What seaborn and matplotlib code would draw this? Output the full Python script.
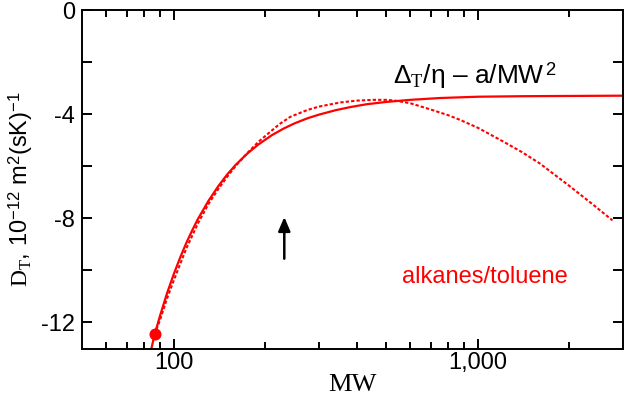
import matplotlib
matplotlib.use("Agg")
import matplotlib.pyplot as plt
import seaborn as sns
import pandas as pd
from matplotlib.ticker import FixedLocator, FixedFormatter, NullFormatter

# ---- data ----
mw_solid = [84.2, 86.4, 90, 95, 100, 105, 110, 115, 120, 130, 140, 150, 160, 175,
            190, 210, 230, 250, 275, 300, 340, 380, 430, 500, 600, 750, 1000,
            1400, 2000, 3000]
dt_solid = [-13.05, -12.48, -11.76, -10.88, -10.14, -9.50, -8.94, -8.46, -8.03,
            -7.33, -6.77, -6.31, -5.94, -5.50, -5.16, -4.81, -4.55, -4.35, -4.16,
            -4.02, -3.85, -3.73, -3.62, -3.53, -3.45, -3.38, -3.33, -3.31, -3.30,
            -3.29]

mw_dotted = [86.4, 90, 95, 100, 110, 120, 130, 140, 150, 160, 175, 190, 210, 224,
             242, 275, 300, 353, 400, 454, 500, 535, 600, 700, 800, 875, 1000,
             1200, 1400, 1600, 2000, 2400, 2777]
dt_dotted = [-12.46, -11.92, -11.08, -10.38, -9.15, -8.20, -7.45, -6.88, -6.40,
             -5.98, -5.48, -5.06, -4.63, -4.36, -4.10, -3.84, -3.71, -3.55, -3.48,
             -3.45, -3.45, -3.48, -3.58, -3.82, -4.04, -4.22, -4.52, -5.02, -5.46,
             -5.89, -6.75, -7.48, -8.08]

mw_point = [86.4]
dt_point = [-12.46]

x_major = [100, 1000]
x_major_labels = ["100", "1,000"]
x_minor = [60, 70, 80, 90, 200, 300, 400, 500, 600, 700, 800, 900, 2000]
y_major = [0, -4, -8, -12]
y_major_labels = ["0", "-4", "-8", "-12"]
y_minor = [-2, -6, -10]

sns.set_theme(style="white")
plt.rcParams['font.family'] = ['Liberation Sans', 'DejaVu Sans']
plt.rcParams['axes.unicode_minus'] = False
plt.rcParams['mathtext.fontset'] = 'custom'
plt.rcParams['mathtext.rm'] = 'Liberation Serif'
plt.rcParams['mathtext.sf'] = 'Liberation Sans'
plt.rcParams['mathtext.it'] = 'Liberation Serif:italic'

RED = "#ff0000"

fig = plt.figure(figsize=(6.25, 3.96), dpi=100)
ax = fig.add_axes([0.1317, 0.1199, 0.8646, 0.8548])

df_s = pd.DataFrame({"MW": mw_solid, "DT": dt_solid})
df_d = pd.DataFrame({"MW": mw_dotted, "DT": dt_dotted})
df_p = pd.DataFrame({"MW": mw_point, "DT": dt_point})

sns.lineplot(data=df_s, x="MW", y="DT", ax=ax, color=RED, lw=1.6, sort=False,
             estimator=None)
sns.lineplot(data=df_d, x="MW", y="DT", ax=ax, color=RED, lw=1.5, sort=False,
             estimator=None, linestyle=(0, (1.6, 1.0)))
sns.scatterplot(data=df_p, x="MW", y="DT", ax=ax, color=RED, s=75,
                edgecolor=RED, linewidth=0, zorder=5, clip_on=False)

ax.set_xscale("log")
ax.set_xlim(50, 3000)
ax.set_ylim(-13, 0)

ax.xaxis.set_major_locator(FixedLocator(x_major))
ax.xaxis.set_major_formatter(FixedFormatter(x_major_labels))
ax.xaxis.set_minor_locator(FixedLocator(x_minor))
ax.xaxis.set_minor_formatter(NullFormatter())
ax.yaxis.set_major_locator(FixedLocator(y_major))
ax.yaxis.set_major_formatter(FixedFormatter(y_major_labels))
ax.yaxis.set_minor_locator(FixedLocator(y_minor))

for s in ax.spines.values():
    s.set_visible(True)
    s.set_color("black")
    s.set_linewidth(1.4)

ax.tick_params(which="both", direction="in", top=True, right=True,
               bottom=True, left=True, color="black", width=1.4)
ax.tick_params(which="major", length=7.5, labelsize=17, labelcolor="black")
ax.tick_params(axis="y", which="major", pad=5)
ax.tick_params(axis="x", which="major", pad=2.5)
ax.tick_params(axis="y", which="minor", length=7.5)
ax.tick_params(axis="x", which="minor", length=5.3)

ax.set_xlabel("MW", fontfamily="Liberation Serif", fontsize=19, color="black",
              labelpad=0)
ax.set_ylabel(r"$\mathrm{D}_\mathrm{T}$, 10$^{\mathsf{-12}}$ m$^{\mathsf{2}}$(sK)$^{\mathsf{-1}}$",
              fontsize=17, color="black", va="center")
ax.yaxis.set_label_coords(-0.115, 0.47)

ax.text(527, -2.83, r"Δ$_\mathrm{T}$/η – a/MW$^{\,\mathsf{2}}$", fontsize=19,
        color="black", ha="left", va="baseline")
ax.text(564, -10.5, "alkanes/toluene", fontsize=17, color=RED,
        ha="left", va="baseline")

ax.annotate("", xy=(231, -7.95), xytext=(231, -9.55),
            arrowprops=dict(arrowstyle="-|>,head_length=0.7,head_width=0.3",
                            color="black", lw=1.8, shrinkA=0, shrinkB=0))

fig.savefig("out.png", dpi=100)
